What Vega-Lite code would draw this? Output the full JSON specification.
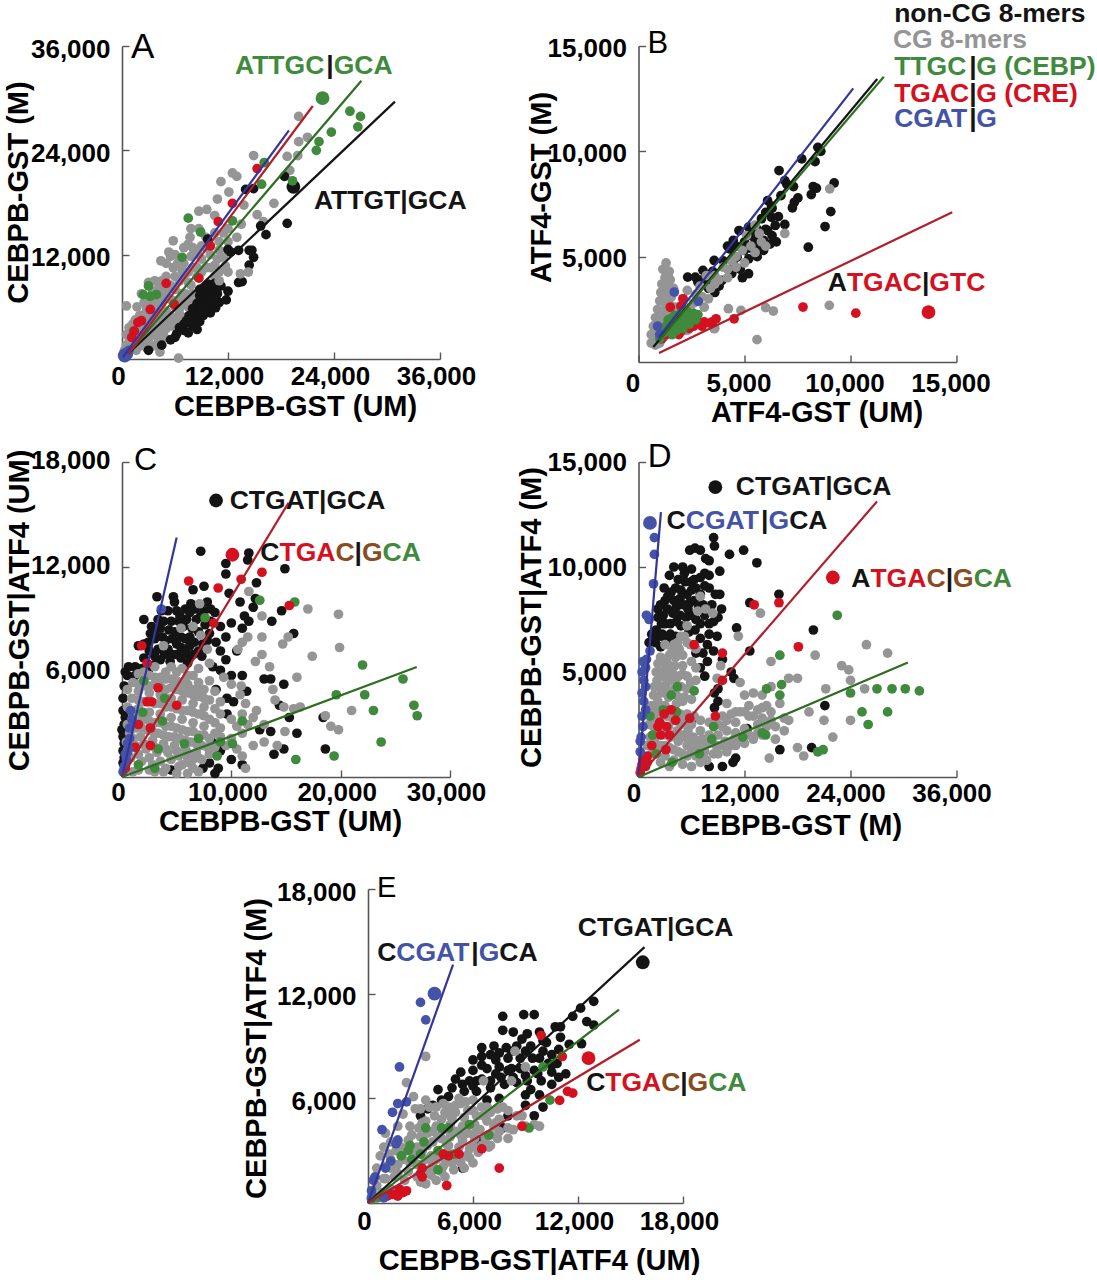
{"$schema":"https://vega.github.io/schema/vega-lite/v6.json","padding":{"left":4,"top":0,"right":0,"bottom":0},"background":"white",
"config":{"view":{"stroke":null},"font":"Liberation Sans","axis":{"grid":false,"domainColor":"#555555","domainWidth":1.6,"tickColor":"#555555","tickWidth":1.4,"tickSize":-7,"labelFontSize":26,"labelFontWeight":"bold","labelColor":"#000000","labelFont":"Liberation Sans","labelOverlap":false,"labelBound":false,"labelFlush":false,"titleFontSize":29,"titleFontWeight":"bold","titleColor":"#000000","titleFont":"Liberation Sans","titleBaseline":"middle","titleAlign":"center","format":",d"},"text":{"font":"Liberation Sans","fontSize":26.5,"fontWeight":"bold","align":"left","baseline":"middle"},"circle":{"opacity":1},"line":{"strokeWidth":2.2}},
"datasets":{
"Ap":[{"s":"CG","x":1300,"y":1200},{"s":"CG","x":2200,"y":2200},{"s":"CG","x":2800,"y":2600},{"s":"CG","x":3700,"y":3300},{"s":"CG","x":4700,"y":3100},{"s":"CG","x":6500,"y":4300},{"s":"CG","x":3000,"y":3800},{"s":"CG","x":1000,"y":2200},{"s":"CG","x":2000,"y":3800},{"s":"CG","x":2800,"y":5800},{"s":"CG","x":3200,"y":6300},{"s":"CG","x":4200,"y":4700},{"s":"CG","x":4800,"y":5000},{"s":"CG","x":5600,"y":6800},{"s":"CG","x":6400,"y":6800},{"s":"CG","x":7200,"y":7500},{"s":"CG","x":7500,"y":8800},{"s":"CG","x":8500,"y":10500},{"s":"CG","x":9000,"y":10000},{"s":"CG","x":10000,"y":10500},{"s":"CG","x":10800,"y":11500},{"s":"CG","x":11000,"y":10000},{"s":"CG","x":3700,"y":9000},{"s":"CG","x":5500,"y":11800},{"s":"CG","x":1000,"y":1500},{"s":"CG","x":1500,"y":2000},{"s":"CG","x":1800,"y":2800},{"s":"CG","x":1200,"y":3000},{"s":"CG","x":2500,"y":3800},{"s":"CG","x":2600,"y":5200},{"s":"CG","x":3500,"y":4000},{"s":"CG","x":3500,"y":5000},{"s":"CG","x":3800,"y":6500},{"s":"CG","x":4500,"y":6500},{"s":"CG","x":4500,"y":7500},{"s":"CG","x":5200,"y":7000},{"s":"CG","x":5500,"y":8500},{"s":"CG","x":5000,"y":8000},{"s":"CG","x":6500,"y":9000},{"s":"CG","x":6000,"y":9500},{"s":"CG","x":5800,"y":10500},{"s":"CG","x":6800,"y":10200},{"s":"CG","x":7500,"y":10000},{"s":"CG","x":7800,"y":11800},{"s":"CG","x":8500,"y":12300},{"s":"CG","x":8000,"y":12800},{"s":"CG","x":9500,"y":12800},{"s":"CG","x":9500,"y":14000},{"s":"CG","x":11500,"y":14500},{"s":"CG","x":11000,"y":12500},{"s":"CG","x":12000,"y":13500},{"s":"CG","x":13000,"y":14000},{"s":"CG","x":13500,"y":15500},{"s":"CG","x":2500,"y":2000},{"s":"CG","x":3500,"y":2800},{"s":"CG","x":4500,"y":4400},{"s":"CG","x":5500,"y":5000},{"s":"CG","x":6500,"y":5800},{"s":"CG","x":7500,"y":6800},{"s":"CG","x":6800,"y":7500},{"s":"CG","x":7800,"y":8500},{"s":"CG","x":8500,"y":9500},{"s":"CG","x":9500,"y":10500},{"s":"CG","x":10500,"y":10800},{"s":"CG","x":11500,"y":11700},{"s":"CG","x":4000,"y":1700},{"s":"CG","x":2800,"y":1300},{"s":"CG","x":1600,"y":1000},{"s":"CG","x":10500,"y":9500},{"s":"CG","x":12000,"y":10000},{"s":"CG","x":300,"y":1000},{"s":"CG","x":500,"y":1600},{"s":"CG","x":800,"y":2400},{"s":"CG","x":500,"y":2800},{"s":"CG","x":800,"y":3600},{"s":"CG","x":1200,"y":4000},{"s":"CG","x":500,"y":6100},{"s":"CG","x":1500,"y":4500},{"s":"CG","x":2000,"y":5000},{"s":"CG","x":1700,"y":6000},{"s":"CG","x":2500,"y":6500},{"s":"CG","x":2200,"y":7500},{"s":"CG","x":3000,"y":7000},{"s":"CG","x":3000,"y":8800},{"s":"CG","x":3500,"y":7800},{"s":"CG","x":4200,"y":8300},{"s":"CG","x":4500,"y":9000},{"s":"CG","x":5000,"y":9500},{"s":"CG","x":4400,"y":11300},{"s":"CG","x":5000,"y":11000},{"s":"CG","x":5300,"y":12300},{"s":"CG","x":6000,"y":12000},{"s":"CG","x":6300,"y":11000},{"s":"CG","x":5800,"y":13600},{"s":"CG","x":7000,"y":11000},{"s":"CG","x":7000,"y":12800},{"s":"CG","x":7500,"y":13200},{"s":"CG","x":7700,"y":14000},{"s":"CG","x":7800,"y":15000},{"s":"CG","x":8700,"y":15000},{"s":"CG","x":8700,"y":17000},{"s":"CG","x":9600,"y":17200},{"s":"CG","x":10500,"y":16500},{"s":"CG","x":10800,"y":18400},{"s":"CG","x":11200,"y":20400},{"s":"CG","x":12100,"y":19200},{"s":"CG","x":12500,"y":21400},{"s":"CG","x":13000,"y":21000},{"s":"CG","x":13800,"y":17700},{"s":"CG","x":14900,"y":23400},{"s":"CG","x":15300,"y":16600},{"s":"CG","x":16000,"y":15800},{"s":"CG","x":17200,"y":17900},{"s":"CG","x":18700,"y":23300},{"s":"CG","x":19000,"y":21700},{"s":"CG","x":19900,"y":23400},{"s":"CG","x":20000,"y":25000},{"s":"CG","x":21000,"y":25500},{"s":"CG","x":20000,"y":27900},{"s":"CG","x":6400,"y":100},{"s":"CG","x":4300,"y":800},{"s":"CG","x":2000,"y":1500},{"s":"CG","x":3000,"y":2000},{"s":"CG","x":3500,"y":1500},{"s":"CG","x":4000,"y":2500},{"s":"CG","x":4800,"y":2500},{"s":"CG","x":5000,"y":3500},{"s":"CG","x":5500,"y":3800},{"s":"CG","x":6000,"y":4500},{"s":"CG","x":6500,"y":5200},{"s":"CG","x":4300,"y":3500},{"s":"CG","x":5200,"y":4500},{"s":"CG","x":7000,"y":4800},{"s":"CG","x":7500,"y":6000},{"s":"CG","x":8200,"y":6800},{"s":"CG","x":8000,"y":7500},{"s":"CG","x":7000,"y":6500},{"s":"CG","x":6000,"y":6000},{"s":"CG","x":5000,"y":5500},{"s":"CG","x":4000,"y":5500},{"s":"CG","x":3000,"y":4500},{"s":"CG","x":2200,"y":3000},{"s":"CG","x":3200,"y":3200},{"s":"CG","x":6000,"y":8000},{"s":"CG","x":7000,"y":9500},{"s":"CG","x":8000,"y":10500},{"s":"CG","x":9000,"y":11500},{"s":"CG","x":10000,"y":12000},{"s":"CG","x":9000,"y":13000},{"s":"CG","x":11000,"y":13500},{"s":"CG","x":10500,"y":14500},{"s":"CG","x":12000,"y":15000},{"s":"non-CG","x":8800,"y":7300},{"s":"non-CG","x":9500,"y":7200},{"s":"non-CG","x":8500,"y":6400},{"s":"non-CG","x":9500,"y":6300},{"s":"non-CG","x":10300,"y":6300},{"s":"non-CG","x":8000,"y":5800},{"s":"non-CG","x":8700,"y":5600},{"s":"non-CG","x":7300,"y":4400},{"s":"non-CG","x":7600,"y":5000},{"s":"non-CG","x":7000,"y":4000},{"s":"non-CG","x":6500,"y":3600},{"s":"non-CG","x":7800,"y":4200},{"s":"non-CG","x":6000,"y":2500},{"s":"non-CG","x":10000,"y":5300},{"s":"non-CG","x":10500,"y":8000},{"s":"non-CG","x":9500,"y":8200},{"s":"non-CG","x":8800,"y":8000},{"s":"non-CG","x":5500,"y":2200},{"s":"non-CG","x":6200,"y":2900},{"s":"non-CG","x":7000,"y":3300},{"s":"non-CG","x":7500,"y":3000},{"s":"non-CG","x":8000,"y":3800},{"s":"non-CG","x":8200,"y":4500},{"s":"non-CG","x":8800,"y":4300},{"s":"non-CG","x":8500,"y":5200},{"s":"non-CG","x":9200,"y":5000},{"s":"non-CG","x":9000,"y":6000},{"s":"non-CG","x":9500,"y":5800},{"s":"non-CG","x":9000,"y":6900},{"s":"non-CG","x":9800,"y":6700},{"s":"non-CG","x":9300,"y":7800},{"s":"non-CG","x":10000,"y":7800},{"s":"non-CG","x":10200,"y":7000},{"s":"non-CG","x":10800,"y":7500},{"s":"non-CG","x":11000,"y":6500},{"s":"non-CG","x":10600,"y":5900},{"s":"non-CG","x":11800,"y":6800},{"s":"non-CG","x":9800,"y":8600},{"s":"non-CG","x":10500,"y":8700},{"s":"non-CG","x":11200,"y":8400},{"s":"non-CG","x":12000,"y":7800},{"s":"non-CG","x":8500,"y":3400},{"s":"non-CG","x":4500,"y":1600},{"s":"non-CG","x":3000,"y":1000},{"s":"non-CG","x":18400,"y":21000},{"s":"non-CG","x":18700,"y":15600},{"s":"non-CG","x":16300,"y":14300},{"s":"non-CG","x":15700,"y":15300},{"s":"non-CG","x":14900,"y":19600},{"s":"non-CG","x":14000,"y":19500},{"s":"non-CG","x":14700,"y":12500},{"s":"non-CG","x":14900,"y":11700},{"s":"non-CG","x":14400,"y":10800},{"s":"non-CG","x":13600,"y":8900},{"s":"non-CG","x":13200,"y":8800},{"s":"non-CG","x":14400,"y":12500},{"s":"non-CG","x":13200,"y":12500},{"s":"non-CG","x":12300,"y":12300},{"s":"non-CG","x":12000,"y":12600},{"s":"non-CG","x":9700,"y":13800},{"s":"non-CG","x":19400,"y":19800,"top":1},{"s":"CG","x":11000,"y":9000},{"s":"CG","x":11700,"y":10700},{"s":"CG","x":13400,"y":9800},{"s":"CG","x":14300,"y":10000},{"s":"CEBP","x":22700,"y":30000,"top":1},{"s":"CEBP","x":25800,"y":28500},{"s":"CEBP","x":27000,"y":27900},{"s":"CEBP","x":26700,"y":26700},{"s":"CEBP","x":23700,"y":26100},{"s":"CEBP","x":22300,"y":25000},{"s":"CEBP","x":22000,"y":24000},{"s":"CEBP","x":16100,"y":22600},{"s":"CEBP","x":15800,"y":20100},{"s":"CEBP","x":19300,"y":20500},{"s":"CEBP","x":7500,"y":16200},{"s":"CEBP","x":8900,"y":14600},{"s":"CEBP","x":12500,"y":15900},{"s":"CEBP","x":6800,"y":11700},{"s":"CEBP","x":3000,"y":8400},{"s":"CEBP","x":3200,"y":7200},{"s":"CEBP","x":2400,"y":7400},{"s":"CEBP","x":3900,"y":7400},{"s":"CEBP","x":1300,"y":3200},{"s":"CRE","x":15300,"y":21900},{"s":"CRE","x":12500,"y":17900},{"s":"CRE","x":10900,"y":15800},{"s":"CRE","x":10000,"y":13000},{"s":"CRE","x":8700,"y":9300},{"s":"CRE","x":5000,"y":8700},{"s":"CRE","x":5900,"y":6300},{"s":"CRE","x":3200,"y":5700},{"s":"CRE","x":2200,"y":4400},{"s":"CRE","x":1800,"y":4200},{"s":"CRE","x":1400,"y":3200},{"s":"CRE","x":1100,"y":2500},{"s":"CGAT","x":300,"y":400,"top":1},{"s":"CGAT","x":500,"y":800},{"s":"CGAT","x":800,"y":1000},{"s":"CGAT","x":200,"y":600},{"s":"CGAT","x":700,"y":500}],
"Al":[{"s":"non-CG","x":700,"y":600},{"s":"non-CG","x":30900,"y":29600},{"s":"CEBP fit","x":700,"y":600},{"s":"CEBP fit","x":27100,"y":32000},{"s":"CRE fit","x":700,"y":600},{"s":"CRE fit","x":21600,"y":29100},{"s":"CGAT fit","x":100,"y":200},{"s":"CGAT fit","x":18900,"y":26300}],
"At":[{"s":"CEBP","t":"ATTGC","x":12790,"y":33700},{"s":"non-CG","t":"|","x":23130,"y":33700},{"s":"CEBP","t":"GCA","x":23960,"y":33700},{"s":"non-CG","t":"ATTGT|GCA","x":21730,"y":18170}],
"Bp":[{"s":"CG","x":1000,"y":1300},{"s":"CG","x":1300,"y":1600},{"s":"CG","x":1600,"y":1900},{"s":"CG","x":1350,"y":2400},{"s":"CG","x":1500,"y":3300},{"s":"CG","x":1250,"y":3000},{"s":"CG","x":1400,"y":4100},{"s":"CG","x":1200,"y":2300},{"s":"CG","x":2000,"y":2000},{"s":"CG","x":2200,"y":2600},{"s":"CG","x":1300,"y":4700},{"s":"CG","x":1150,"y":4400},{"s":"CG","x":1450,"y":4300},{"s":"CG","x":1250,"y":4000},{"s":"CG","x":1500,"y":3900},{"s":"CG","x":1100,"y":3700},{"s":"CG","x":1350,"y":3600},{"s":"CG","x":1650,"y":3500},{"s":"CG","x":1050,"y":3300},{"s":"CG","x":1300,"y":3200},{"s":"CG","x":1550,"y":3100},{"s":"CG","x":1000,"y":2900},{"s":"CG","x":1250,"y":2800},{"s":"CG","x":1500,"y":2700},{"s":"CG","x":1750,"y":2600},{"s":"CG","x":900,"y":2500},{"s":"CG","x":1150,"y":2400},{"s":"CG","x":800,"y":2100},{"s":"CG","x":1050,"y":2000},{"s":"CG","x":1300,"y":2100},{"s":"CG","x":700,"y":1700},{"s":"CG","x":950,"y":1600},{"s":"CG","x":600,"y":1300},{"s":"CG","x":800,"y":1200},{"s":"CG","x":600,"y":900},{"s":"CG","x":800,"y":800},{"s":"CG","x":1000,"y":900},{"s":"CG","x":1200,"y":1200},{"s":"CG","x":1500,"y":1300},{"s":"CG","x":2300,"y":1500},{"s":"CG","x":2900,"y":1800},{"s":"CG","x":3600,"y":1600},{"s":"non-CG","x":3200,"y":3700},{"s":"non-CG","x":4500,"y":4600},{"s":"non-CG","x":5000,"y":5300},{"s":"non-CG","x":5500,"y":5700},{"s":"non-CG","x":6000,"y":6300},{"s":"non-CG","x":6600,"y":6900},{"s":"non-CG","x":5700,"y":5500},{"s":"non-CG","x":3000,"y":3900},{"s":"non-CG","x":3500,"y":4300},{"s":"non-CG","x":4000,"y":4800},{"s":"non-CG","x":4200,"y":5500},{"s":"non-CG","x":4600,"y":5500},{"s":"non-CG","x":5000,"y":5700},{"s":"non-CG","x":5300,"y":6000},{"s":"non-CG","x":5600,"y":6300},{"s":"non-CG","x":5800,"y":6800},{"s":"non-CG","x":6000,"y":7100},{"s":"non-CG","x":6300,"y":7300},{"s":"non-CG","x":4900,"y":4000},{"s":"non-CG","x":5200,"y":4900},{"s":"non-CG","x":5900,"y":5300},{"s":"non-CG","x":6500,"y":5700},{"s":"non-CG","x":6200,"y":5600},{"s":"non-CG","x":2800,"y":3800},{"s":"non-CG","x":3600,"y":3300},{"s":"non-CG","x":8460,"y":10190},{"s":"non-CG","x":8600,"y":10000},{"s":"non-CG","x":7700,"y":9640},{"s":"non-CG","x":8330,"y":9510},{"s":"non-CG","x":6630,"y":9090},{"s":"non-CG","x":9230,"y":8500},{"s":"non-CG","x":8240,"y":8330},{"s":"non-CG","x":8390,"y":8250},{"s":"non-CG","x":8150,"y":7950},{"s":"non-CG","x":7520,"y":7790},{"s":"non-CG","x":7350,"y":7580},{"s":"non-CG","x":7260,"y":7320},{"s":"non-CG","x":9070,"y":7140},{"s":"non-CG","x":8800,"y":6430},{"s":"non-CG","x":8010,"y":5450},{"s":"non-CG","x":6900,"y":8610},{"s":"non-CG","x":6990,"y":8450},{"s":"non-CG","x":7310,"y":8330},{"s":"non-CG","x":6720,"y":7900},{"s":"non-CG","x":6090,"y":7660},{"s":"non-CG","x":6270,"y":7400},{"s":"non-CG","x":6900,"y":6530},{"s":"non-CG","x":6450,"y":6480},{"s":"non-CG","x":6270,"y":6870},{"s":"non-CG","x":6090,"y":6240},{"s":"non-CG","x":6300,"y":6000},{"s":"non-CG","x":5910,"y":5770},{"s":"non-CG","x":5370,"y":5370},{"s":"non-CG","x":5190,"y":6400},{"s":"non-CG","x":4740,"y":6240},{"s":"non-CG","x":4470,"y":5770},{"s":"non-CG","x":4290,"y":5370},{"s":"non-CG","x":4650,"y":4980},{"s":"non-CG","x":5190,"y":4190},{"s":"non-CG","x":3570,"y":4820},{"s":"non-CG","x":3040,"y":4350},{"s":"non-CG","x":2320,"y":4030},{"s":"non-CG","x":2680,"y":4030},{"s":"non-CG","x":3930,"y":3870},{"s":"non-CG","x":3300,"y":3500},{"s":"non-CG","x":3800,"y":3600},{"s":"non-CG","x":4400,"y":4200},{"s":"non-CG","x":4800,"y":4400},{"s":"non-CG","x":5600,"y":5000},{"s":"CG","x":3400,"y":3500},{"s":"CG","x":3800,"y":3900},{"s":"CG","x":4200,"y":4400},{"s":"CG","x":4600,"y":4500},{"s":"CG","x":4600,"y":5000},{"s":"CG","x":5500,"y":5200},{"s":"CG","x":5800,"y":5700},{"s":"CG","x":3600,"y":3700},{"s":"CG","x":2700,"y":3200},{"s":"CG","x":3300,"y":3000},{"s":"CG","x":1800,"y":2300},{"s":"CG","x":2100,"y":3000},{"s":"CG","x":2300,"y":3400},{"s":"CG","x":2600,"y":2800},{"s":"CG","x":2900,"y":3600},{"s":"CG","x":3000,"y":3100},{"s":"CG","x":3200,"y":4100},{"s":"CG","x":3600,"y":4100},{"s":"CG","x":4000,"y":4500},{"s":"CG","x":4200,"y":4000},{"s":"CG","x":4400,"y":4800},{"s":"CG","x":4900,"y":5300},{"s":"CG","x":5000,"y":4700},{"s":"CG","x":5300,"y":5500},{"s":"CG","x":5100,"y":6000},{"s":"CG","x":5700,"y":6100},{"s":"CG","x":5500,"y":6500},{"s":"CG","x":6000,"y":5500},{"s":"CG","x":6900,"y":6100},{"s":"CG","x":2500,"y":2400},{"s":"CG","x":3100,"y":2600},{"s":"CG","x":9000,"y":2690},{"s":"CG","x":9020,"y":8220},{"s":"CG","x":6360,"y":2420},{"s":"CG","x":6000,"y":2580},{"s":"CG","x":4830,"y":2450},{"s":"CG","x":4240,"y":2530},{"s":"CG","x":5590,"y":1060},{"s":"CG","x":3570,"y":1580},{"s":"CRE","x":1500,"y":2600},{"s":"CRE","x":2000,"y":2650},{"s":"CRE","x":2100,"y":3000},{"s":"CRE","x":1300,"y":1300},{"s":"CRE","x":1700,"y":1400},{"s":"CRE","x":1900,"y":1300},{"s":"CRE","x":2000,"y":1450},{"s":"CRE","x":2400,"y":1600},{"s":"CRE","x":2600,"y":1700},{"s":"CRE","x":2800,"y":1900},{"s":"CRE","x":3000,"y":1700},{"s":"CRE","x":3100,"y":1900},{"s":"CRE","x":1100,"y":1100},{"s":"CEBP","x":1000,"y":1100},{"s":"CEBP","x":1200,"y":1400},{"s":"CEBP","x":1500,"y":1600},{"s":"CEBP","x":1800,"y":1800},{"s":"CEBP","x":2100,"y":1850},{"s":"CEBP","x":2400,"y":2050},{"s":"CEBP","x":1400,"y":2000},{"s":"CEBP","x":1700,"y":2200},{"s":"CEBP","x":2000,"y":2300},{"s":"CEBP","x":2300,"y":2400},{"s":"CEBP","x":2600,"y":2300},{"s":"CEBP","x":2800,"y":2250},{"s":"CEBP","x":1600,"y":1300},{"s":"CEBP","x":1300,"y":1700},{"s":"CEBP","x":1600,"y":2100},{"s":"CEBP","x":1900,"y":2100},{"s":"CEBP","x":2200,"y":2200},{"s":"CEBP","x":1500,"y":1800},{"s":"CEBP","x":2500,"y":2200},{"s":"CEBP","x":1800,"y":1500},{"s":"CEBP","x":2100,"y":1600},{"s":"CEBP","x":2400,"y":1800},{"s":"CEBP","x":2700,"y":2000},{"s":"CRE","x":13680,"y":2370,"top":1},{"s":"CRE","x":10250,"y":2320},{"s":"CRE","x":7760,"y":2610},{"s":"CRE","x":4510,"y":2050},{"s":"CRE","x":3660,"y":2050},{"s":"CRE","x":3480,"y":1900},{"s":"CRE","x":3360,"y":1850},{"s":"CGAT","x":1690,"y":3320},{"s":"CGAT","x":2820,"y":2880},{"s":"CGAT","x":900,"y":1700},{"s":"CGAT","x":1000,"y":1300}],
"Bl":[{"s":"CGAT fit","x":970,"y":1185},{"s":"CGAT fit","x":10130,"y":12990},{"s":"non-CG","x":700,"y":710},{"s":"non-CG","x":11260,"y":13430},{"s":"CEBP fit","x":970,"y":1030},{"s":"CEBP fit","x":11570,"y":13540},{"s":"CRE fit","x":970,"y":430},{"s":"CRE fit","x":14800,"y":7110}],
"Bt":[{"s":"non-CG","t":"non-CG 8-mers","x":12060,"y":16520},{"s":"CG","t":"CG 8-mers","x":12000,"y":15280},{"s":"CEBP","t":"TTGC","x":12060,"y":14000},{"s":"non-CG","t":"|","x":15600,"y":14000},{"s":"CEBP","t":"G (CEBP)","x":15930,"y":14000},{"s":"CRE","t":"TGAC","x":12060,"y":12720},{"s":"non-CG","t":"|","x":15600,"y":12720},{"s":"CRE","t":"G (CRE)","x":15930,"y":12720},{"s":"CGAT","t":"CGAT","x":12060,"y":11530},{"s":"non-CG","t":"|","x":15600,"y":11530},{"s":"CGAT","t":"G","x":15930,"y":11530},{"s":"non-CG","t":"A","x":8930,"y":3740},{"s":"CRE","t":"TGAC","x":9830,"y":3740},{"s":"non-CG","t":"|","x":13370,"y":3740},{"s":"CRE","t":"GTC","x":13720,"y":3740}],
"Cp":[{"s":"non-CG","x":2700,"y":8600},{"s":"non-CG","x":3300,"y":9000},{"s":"non-CG","x":4200,"y":9500},{"s":"non-CG","x":5000,"y":9500},{"s":"non-CG","x":5800,"y":9600},{"s":"non-CG","x":6700,"y":9600},{"s":"non-CG","x":7500,"y":9500},{"s":"non-CG","x":8500,"y":9400},{"s":"non-CG","x":9000,"y":8600},{"s":"non-CG","x":9500,"y":8000},{"s":"non-CG","x":10000,"y":8800},{"s":"non-CG","x":2600,"y":8200},{"s":"non-CG","x":4600,"y":7900},{"s":"non-CG","x":5400,"y":8000},{"s":"non-CG","x":6200,"y":8000},{"s":"non-CG","x":5200,"y":8900},{"s":"non-CG","x":5900,"y":9000},{"s":"non-CG","x":6800,"y":9000},{"s":"non-CG","x":7600,"y":8700},{"s":"non-CG","x":4300,"y":8400},{"s":"non-CG","x":3800,"y":8900},{"s":"non-CG","x":3000,"y":8200},{"s":"non-CG","x":2500,"y":7200},{"s":"non-CG","x":3000,"y":6900},{"s":"non-CG","x":3900,"y":7000},{"s":"non-CG","x":4600,"y":7000},{"s":"non-CG","x":5400,"y":6800},{"s":"non-CG","x":6200,"y":6900},{"s":"non-CG","x":5400,"y":7400},{"s":"non-CG","x":6200,"y":7500},{"s":"non-CG","x":7000,"y":7200},{"s":"non-CG","x":7800,"y":7800},{"s":"non-CG","x":8600,"y":7700},{"s":"non-CG","x":9000,"y":7200},{"s":"non-CG","x":2900,"y":6400},{"s":"non-CG","x":2000,"y":6800},{"s":"non-CG","x":300,"y":6000},{"s":"non-CG","x":300,"y":3400},{"s":"non-CG","x":0,"y":2700},{"s":"non-CG","x":200,"y":1900},{"s":"non-CG","x":200,"y":1100},{"s":"non-CG","x":3700,"y":8000},{"s":"non-CG","x":7200,"y":12900},{"s":"non-CG","x":11600,"y":12800},{"s":"non-CG","x":11500,"y":12400},{"s":"non-CG","x":9500,"y":12200},{"s":"non-CG","x":9500,"y":11600},{"s":"non-CG","x":14900,"y":11900},{"s":"non-CG","x":12300,"y":11100},{"s":"non-CG","x":3200,"y":10300},{"s":"non-CG","x":4700,"y":10300},{"s":"non-CG","x":4800,"y":10000},{"s":"non-CG","x":6500,"y":10700},{"s":"non-CG","x":7500,"y":10900},{"s":"non-CG","x":6300,"y":9900},{"s":"non-CG","x":7800,"y":10000},{"s":"non-CG","x":8100,"y":9600},{"s":"non-CG","x":9800,"y":10500},{"s":"non-CG","x":10800,"y":10000},{"s":"non-CG","x":12200,"y":10200},{"s":"non-CG","x":12000,"y":9700},{"s":"non-CG","x":11200,"y":9200},{"s":"non-CG","x":11600,"y":8900},{"s":"non-CG","x":14600,"y":9500},{"s":"non-CG","x":13700,"y":8900},{"s":"non-CG","x":2000,"y":9000},{"s":"non-CG","x":3600,"y":9500},{"s":"non-CG","x":15700,"y":8200},{"s":"non-CG","x":11000,"y":8500},{"s":"non-CG","x":3500,"y":8500},{"s":"non-CG","x":4500,"y":8900},{"s":"non-CG","x":5300,"y":9200},{"s":"non-CG","x":6200,"y":9400},{"s":"non-CG","x":7200,"y":9200},{"s":"non-CG","x":8100,"y":8900},{"s":"non-CG","x":4000,"y":7800},{"s":"non-CG","x":4800,"y":8300},{"s":"non-CG","x":5600,"y":8600},{"s":"non-CG","x":6400,"y":8500},{"s":"non-CG","x":7000,"y":8300},{"s":"non-CG","x":8000,"y":8200},{"s":"non-CG","x":3300,"y":7300},{"s":"non-CG","x":4200,"y":7300},{"s":"non-CG","x":5000,"y":7600},{"s":"non-CG","x":5800,"y":7900},{"s":"non-CG","x":6600,"y":7700},{"s":"non-CG","x":7400,"y":7600},{"s":"non-CG","x":2000,"y":7600},{"s":"non-CG","x":1500,"y":7500},{"s":"non-CG","x":2400,"y":7700},{"s":"non-CG","x":3000,"y":7900},{"s":"non-CG","x":5000,"y":7000},{"s":"non-CG","x":5800,"y":7200},{"s":"non-CG","x":6500,"y":7000},{"s":"non-CG","x":7300,"y":6900},{"s":"non-CG","x":4400,"y":6600},{"s":"non-CG","x":3500,"y":6700},{"s":"non-CG","x":6000,"y":6500},{"s":"non-CG","x":8300,"y":6300},{"s":"non-CG","x":9500,"y":6700},{"s":"non-CG","x":10500,"y":7200},{"s":"non-CG","x":9000,"y":6100},{"s":"non-CG","x":600,"y":6300},{"s":"non-CG","x":1200,"y":6300},{"s":"non-CG","x":1800,"y":6200},{"s":"non-CG","x":2400,"y":6100},{"s":"non-CG","x":500,"y":5800},{"s":"non-CG","x":1200,"y":5800},{"s":"non-CG","x":200,"y":5200},{"s":"non-CG","x":100,"y":4500},{"s":"non-CG","x":100,"y":3800},{"s":"non-CG","x":200,"y":3000},{"s":"non-CG","x":100,"y":2300},{"s":"non-CG","x":100,"y":1500},{"s":"non-CG","x":100,"y":800},{"s":"non-CG","x":10000,"y":5800},{"s":"non-CG","x":11000,"y":5800},{"s":"non-CG","x":13000,"y":5600},{"s":"non-CG","x":13600,"y":5600},{"s":"non-CG","x":14800,"y":5300},{"s":"non-CG","x":8600,"y":5000},{"s":"non-CG","x":9600,"y":4500},{"s":"non-CG","x":10200,"y":4300},{"s":"non-CG","x":11400,"y":4900},{"s":"non-CG","x":14400,"y":4100},{"s":"non-CG","x":9600,"y":3600},{"s":"non-CG","x":15300,"y":3400},{"s":"non-CG","x":18400,"y":3400},{"s":"non-CG","x":12600,"y":2700},{"s":"non-CG","x":13600,"y":2600},{"s":"non-CG","x":16000,"y":2500},{"s":"non-CG","x":8200,"y":2000},{"s":"non-CG","x":9000,"y":1500},{"s":"non-CG","x":10000,"y":1000},{"s":"non-CG","x":14800,"y":1600},{"s":"non-CG","x":13900,"y":1300},{"s":"non-CG","x":18600,"y":1600},{"s":"non-CG","x":8000,"y":800},{"s":"non-CG","x":8800,"y":500},{"s":"non-CG","x":7400,"y":500},{"s":"non-CG","x":8500,"y":200},{"s":"non-CG","x":11000,"y":700},{"s":"non-CG","x":4500,"y":400},{"s":"non-CG","x":8600,"y":15800,"top":1},{"s":"CG","x":1500,"y":5300},{"s":"CG","x":2500,"y":5200},{"s":"CG","x":3500,"y":5200},{"s":"CG","x":4500,"y":5100},{"s":"CG","x":5500,"y":4900},{"s":"CG","x":6500,"y":4700},{"s":"CG","x":7500,"y":4500},{"s":"CG","x":1500,"y":4400},{"s":"CG","x":2500,"y":4300},{"s":"CG","x":3500,"y":4200},{"s":"CG","x":4500,"y":4000},{"s":"CG","x":5500,"y":3800},{"s":"CG","x":6500,"y":3700},{"s":"CG","x":7500,"y":3500},{"s":"CG","x":8500,"y":3900},{"s":"CG","x":1500,"y":3400},{"s":"CG","x":2500,"y":3200},{"s":"CG","x":3500,"y":3100},{"s":"CG","x":4500,"y":2900},{"s":"CG","x":5500,"y":2700},{"s":"CG","x":6500,"y":2600},{"s":"CG","x":7500,"y":2400},{"s":"CG","x":8500,"y":2500},{"s":"CG","x":900,"y":2900},{"s":"CG","x":1800,"y":2800},{"s":"CG","x":2800,"y":2600},{"s":"CG","x":3800,"y":2400},{"s":"CG","x":4800,"y":2300},{"s":"CG","x":5800,"y":2100},{"s":"CG","x":6800,"y":1900},{"s":"CG","x":7800,"y":1700},{"s":"CG","x":1000,"y":2200},{"s":"CG","x":2000,"y":1900},{"s":"CG","x":3000,"y":1700},{"s":"CG","x":4000,"y":1600},{"s":"CG","x":5000,"y":1500},{"s":"CG","x":6000,"y":1400},{"s":"CG","x":7000,"y":1100},{"s":"CG","x":800,"y":1100},{"s":"CG","x":1800,"y":900},{"s":"CG","x":2800,"y":700},{"s":"CG","x":3800,"y":300},{"s":"CG","x":5200,"y":600},{"s":"CG","x":6200,"y":800},{"s":"CG","x":7000,"y":300},{"s":"CG","x":3000,"y":5700},{"s":"CG","x":4000,"y":5600},{"s":"CG","x":5000,"y":5500},{"s":"CG","x":6000,"y":5300},{"s":"CG","x":7000,"y":5000},{"s":"CG","x":8500,"y":4900},{"s":"CG","x":9000,"y":4300},{"s":"CG","x":9000,"y":2800},{"s":"CG","x":9500,"y":1800},{"s":"CG","x":8500,"y":1700},{"s":"CG","x":10000,"y":3300},{"s":"CG","x":11000,"y":3600},{"s":"CG","x":11000,"y":2500},{"s":"CG","x":13000,"y":3000},{"s":"CG","x":1500,"y":5900},{"s":"CG","x":500,"y":5000},{"s":"CG","x":1500,"y":4900},{"s":"CG","x":2500,"y":4800},{"s":"CG","x":3500,"y":4700},{"s":"CG","x":4500,"y":4500},{"s":"CG","x":5500,"y":4400},{"s":"CG","x":6500,"y":4200},{"s":"CG","x":7500,"y":4000},{"s":"CG","x":500,"y":4000},{"s":"CG","x":1500,"y":3900},{"s":"CG","x":2500,"y":3700},{"s":"CG","x":3500,"y":3600},{"s":"CG","x":4500,"y":3400},{"s":"CG","x":5500,"y":3300},{"s":"CG","x":6500,"y":3100},{"s":"CG","x":7500,"y":2900},{"s":"CG","x":500,"y":3000},{"s":"CG","x":1300,"y":2800},{"s":"CG","x":2300,"y":2700},{"s":"CG","x":3300,"y":2500},{"s":"CG","x":4300,"y":2300},{"s":"CG","x":5300,"y":2200},{"s":"CG","x":6300,"y":2000},{"s":"CG","x":7300,"y":1800},{"s":"CG","x":400,"y":2000},{"s":"CG","x":1200,"y":1800},{"s":"CG","x":2200,"y":1600},{"s":"CG","x":3200,"y":1400},{"s":"CG","x":4200,"y":1400},{"s":"CG","x":5200,"y":1200},{"s":"CG","x":6000,"y":1100},{"s":"CG","x":7300,"y":1000},{"s":"CG","x":2500,"y":5800},{"s":"CG","x":3500,"y":5700},{"s":"CG","x":4500,"y":5600},{"s":"CG","x":5500,"y":5400},{"s":"CG","x":6500,"y":5000},{"s":"CG","x":7500,"y":5000},{"s":"CG","x":2500,"y":400},{"s":"CG","x":4000,"y":500},{"s":"CG","x":1000,"y":300},{"s":"CG","x":6000,"y":200},{"s":"CG","x":4500,"y":6300},{"s":"CG","x":5500,"y":6200},{"s":"CG","x":6500,"y":5800},{"s":"CG","x":5400,"y":8500},{"s":"CG","x":7100,"y":9900},{"s":"CG","x":6500,"y":8600},{"s":"CG","x":7200,"y":8100},{"s":"CG","x":7800,"y":7300},{"s":"CG","x":8000,"y":6500},{"s":"CG","x":7000,"y":6200},{"s":"CG","x":3800,"y":7500},{"s":"CG","x":2000,"y":6000},{"s":"CG","x":3000,"y":6300},{"s":"CG","x":4000,"y":6000},{"s":"CG","x":5000,"y":6000},{"s":"CG","x":6000,"y":5800},{"s":"CG","x":7000,"y":5400},{"s":"CG","x":8000,"y":5500},{"s":"CG","x":1000,"y":5400},{"s":"CG","x":2000,"y":5200},{"s":"CG","x":3000,"y":5300},{"s":"CG","x":4000,"y":5000},{"s":"CG","x":5000,"y":5000},{"s":"CG","x":6000,"y":4800},{"s":"CG","x":7000,"y":4600},{"s":"CG","x":8000,"y":4400},{"s":"CG","x":900,"y":4500},{"s":"CG","x":2000,"y":4300},{"s":"CG","x":3000,"y":4200},{"s":"CG","x":4000,"y":4000},{"s":"CG","x":5000,"y":3900},{"s":"CG","x":6000,"y":3800},{"s":"CG","x":7000,"y":3600},{"s":"CG","x":8000,"y":3300},{"s":"CG","x":1000,"y":3500},{"s":"CG","x":2000,"y":3300},{"s":"CG","x":3000,"y":3100},{"s":"CG","x":4000,"y":2900},{"s":"CG","x":5000,"y":2800},{"s":"CG","x":6000,"y":2600},{"s":"CG","x":7000,"y":2400},{"s":"CG","x":8000,"y":2200},{"s":"CG","x":9000,"y":2300},{"s":"CG","x":700,"y":2500},{"s":"CG","x":1700,"y":2300},{"s":"CG","x":2800,"y":2100},{"s":"CG","x":3800,"y":1900},{"s":"CG","x":4800,"y":1800},{"s":"CG","x":5800,"y":1600},{"s":"CG","x":6800,"y":1400},{"s":"CG","x":8000,"y":1300},{"s":"CG","x":500,"y":1500},{"s":"CG","x":1500,"y":1300},{"s":"CG","x":2500,"y":1100},{"s":"CG","x":3500,"y":900},{"s":"CG","x":4500,"y":1000},{"s":"CG","x":5500,"y":700},{"s":"CG","x":6500,"y":500},{"s":"CG","x":300,"y":600},{"s":"CG","x":1500,"y":400},{"s":"CG","x":3000,"y":300},{"s":"CG","x":5000,"y":200},{"s":"CG","x":6500,"y":1000},{"s":"CG","x":12800,"y":9200},{"s":"CG","x":11600,"y":10600},{"s":"CG","x":17000,"y":9600},{"s":"CG","x":19800,"y":9300},{"s":"CG","x":19900,"y":7400},{"s":"CG","x":17400,"y":6900},{"s":"CG","x":11500,"y":8000},{"s":"CG","x":11000,"y":7700},{"s":"CG","x":10600,"y":7300},{"s":"CG","x":12800,"y":8000},{"s":"CG","x":14700,"y":7600},{"s":"CG","x":15200,"y":8000},{"s":"CG","x":12200,"y":6600},{"s":"CG","x":12800,"y":7000},{"s":"CG","x":13500,"y":6300},{"s":"CG","x":16000,"y":5700},{"s":"CG","x":9300,"y":5700},{"s":"CG","x":10000,"y":5300},{"s":"CG","x":10900,"y":5200},{"s":"CG","x":10800,"y":4700},{"s":"CG","x":11300,"y":4200},{"s":"CG","x":13800,"y":5000},{"s":"CG","x":14000,"y":4400},{"s":"CG","x":12300,"y":3800},{"s":"CG","x":12000,"y":3400},{"s":"CG","x":14800,"y":4000},{"s":"CG","x":15700,"y":3900},{"s":"CG","x":16300,"y":4000},{"s":"CG","x":21000,"y":3800},{"s":"CG","x":18600,"y":3500},{"s":"CG","x":19100,"y":2900},{"s":"CG","x":19800,"y":2700},{"s":"CG","x":11500,"y":3000},{"s":"CG","x":10500,"y":2900},{"s":"CG","x":9000,"y":3600},{"s":"CG","x":8500,"y":3100},{"s":"CG","x":14900,"y":2600},{"s":"CG","x":12000,"y":1800},{"s":"CG","x":11000,"y":1200},{"s":"CG","x":10500,"y":1600},{"s":"CG","x":13000,"y":2000},{"s":"CG","x":14200,"y":1800},{"s":"CG","x":11300,"y":500},{"s":"CG","x":10000,"y":2200},{"s":"CEBP","x":15800,"y":10000},{"s":"CEBP","x":12600,"y":10100},{"s":"CEBP","x":7600,"y":9100},{"s":"CEBP","x":22000,"y":6400},{"s":"CEBP","x":25700,"y":5600},{"s":"CEBP","x":22200,"y":4700},{"s":"CEBP","x":19600,"y":4700},{"s":"CEBP","x":26700,"y":4100},{"s":"CEBP","x":23000,"y":3800},{"s":"CEBP","x":27000,"y":3500},{"s":"CEBP","x":11000,"y":3200},{"s":"CEBP","x":23700,"y":2000},{"s":"CEBP","x":19400,"y":1200},{"s":"CEBP","x":15900,"y":1000},{"s":"CEBP","x":3900,"y":4500},{"s":"CEBP","x":2000,"y":5500},{"s":"CEBP","x":3700,"y":3200},{"s":"CEBP","x":1900,"y":3700},{"s":"CEBP","x":5700,"y":1900},{"s":"CEBP","x":7000,"y":2200},{"s":"CEBP","x":9000,"y":2000},{"s":"CEBP","x":10100,"y":1900},{"s":"CEBP","x":8700,"y":1200},{"s":"CEBP","x":1500,"y":700},{"s":"CEBP","x":3000,"y":500},{"s":"CEBP","x":3300,"y":1600},{"s":"CRE","x":10100,"y":12700,"top":1},{"s":"CRE","x":12800,"y":11700},{"s":"CRE","x":10900,"y":11300},{"s":"CRE","x":6100,"y":11200},{"s":"CRE","x":8800,"y":10800},{"s":"CRE","x":15300,"y":9800},{"s":"CRE","x":8400,"y":8800},{"s":"CRE","x":1800,"y":7500},{"s":"CRE","x":2300,"y":6500},{"s":"CRE","x":3300,"y":5100},{"s":"CRE","x":2300,"y":4300},{"s":"CRE","x":2700,"y":4300},{"s":"CRE","x":5000,"y":4100},{"s":"CRE","x":1500,"y":3000},{"s":"CRE","x":2600,"y":2800},{"s":"CRE","x":2600,"y":1800},{"s":"CRE","x":1200,"y":1700},{"s":"CRE","x":300,"y":500},{"s":"CGAT","x":3600,"y":9600},{"s":"CGAT","x":800,"y":3800},{"s":"CGAT","x":900,"y":3300},{"s":"CGAT","x":700,"y":2800},{"s":"CGAT","x":700,"y":2200},{"s":"CGAT","x":500,"y":1900},{"s":"CGAT","x":600,"y":1600},{"s":"CGAT","x":300,"y":1300},{"s":"CGAT","x":400,"y":1000},{"s":"CGAT","x":200,"y":600},{"s":"CGAT","x":500,"y":1400},{"s":"CGAT","x":100,"y":300}],
"Cl":[{"s":"CGAT fit","x":0,"y":0},{"s":"CGAT fit","x":5000,"y":13680},{"s":"CRE fit","x":0,"y":0},{"s":"CRE fit","x":15230,"y":15670},{"s":"CEBP fit","x":0,"y":0},{"s":"CEBP fit","x":26960,"y":6290}],
"Ct":[{"s":"non-CG","t":"CTGAT|GCA","x":9850,"y":15770},{"s":"non-CG","t":"C","x":12650,"y":12820},{"s":"CRE","t":"TGA","x":14400,"y":12820},{"s":"mixed","t":"C","x":19520,"y":12820},{"s":"non-CG","t":"|","x":21260,"y":12820},{"s":"mixed","t":"G","x":21940,"y":12820},{"s":"CEBP","t":"CA","x":23830,"y":12820}],
"Dp":[{"s":"non-CG","x":2200,"y":8000},{"s":"non-CG","x":3000,"y":8400},{"s":"non-CG","x":4000,"y":8400},{"s":"non-CG","x":4700,"y":8500},{"s":"non-CG","x":5500,"y":8700},{"s":"non-CG","x":6500,"y":9000},{"s":"non-CG","x":7500,"y":9700},{"s":"non-CG","x":6000,"y":9300},{"s":"non-CG","x":5200,"y":9700},{"s":"non-CG","x":7500,"y":7700},{"s":"non-CG","x":8500,"y":7400},{"s":"non-CG","x":6000,"y":7700},{"s":"non-CG","x":6500,"y":7500},{"s":"non-CG","x":5600,"y":8000},{"s":"non-CG","x":7300,"y":8200},{"s":"non-CG","x":8000,"y":6800},{"s":"non-CG","x":2300,"y":6700},{"s":"non-CG","x":3000,"y":6600},{"s":"non-CG","x":3600,"y":6800},{"s":"non-CG","x":3000,"y":7300},{"s":"non-CG","x":3900,"y":7800},{"s":"non-CG","x":4700,"y":7700},{"s":"non-CG","x":3300,"y":8600},{"s":"non-CG","x":4200,"y":9000},{"s":"non-CG","x":5300,"y":9300},{"s":"non-CG","x":6300,"y":9400},{"s":"non-CG","x":7500,"y":9100},{"s":"non-CG","x":2600,"y":7300},{"s":"non-CG","x":4800,"y":7200},{"s":"non-CG","x":6300,"y":8400},{"s":"non-CG","x":5800,"y":8300},{"s":"non-CG","x":6800,"y":8100},{"s":"non-CG","x":8700,"y":8700},{"s":"non-CG","x":8000,"y":7300},{"s":"non-CG","x":8900,"y":6700},{"s":"non-CG","x":7800,"y":6300},{"s":"non-CG","x":7300,"y":5900},{"s":"non-CG","x":6400,"y":7000},{"s":"non-CG","x":1900,"y":6400},{"s":"non-CG","x":2500,"y":6200},{"s":"non-CG","x":1500,"y":6800},{"s":"non-CG","x":2200,"y":7600},{"s":"non-CG","x":8600,"y":4000},{"s":"non-CG","x":9000,"y":4200},{"s":"non-CG","x":8500,"y":11400},{"s":"non-CG","x":8600,"y":11000},{"s":"non-CG","x":10300,"y":10600},{"s":"non-CG","x":11900,"y":10800},{"s":"non-CG","x":13400,"y":10200},{"s":"non-CG","x":7000,"y":10800},{"s":"non-CG","x":6400,"y":10900},{"s":"non-CG","x":5800,"y":10800},{"s":"non-CG","x":7600,"y":10400},{"s":"non-CG","x":8000,"y":10300},{"s":"non-CG","x":4000,"y":10000},{"s":"non-CG","x":5000,"y":10000},{"s":"non-CG","x":6000,"y":9900},{"s":"non-CG","x":9200,"y":9800},{"s":"non-CG","x":3500,"y":9600},{"s":"non-CG","x":8000,"y":9600},{"s":"non-CG","x":7000,"y":9500},{"s":"non-CG","x":4500,"y":9400},{"s":"non-CG","x":2900,"y":9000},{"s":"non-CG","x":3700,"y":8800},{"s":"non-CG","x":4800,"y":8900},{"s":"non-CG","x":6000,"y":8900},{"s":"non-CG","x":7000,"y":8700},{"s":"non-CG","x":8000,"y":9000},{"s":"non-CG","x":9200,"y":8700},{"s":"non-CG","x":2500,"y":8200},{"s":"non-CG","x":3300,"y":8000},{"s":"non-CG","x":4300,"y":8100},{"s":"non-CG","x":5100,"y":8200},{"s":"non-CG","x":8300,"y":8200},{"s":"non-CG","x":9400,"y":8000},{"s":"non-CG","x":2800,"y":7700},{"s":"non-CG","x":3600,"y":7300},{"s":"non-CG","x":4300,"y":7400},{"s":"non-CG","x":5400,"y":7600},{"s":"non-CG","x":7000,"y":7300},{"s":"non-CG","x":9000,"y":7600},{"s":"non-CG","x":11100,"y":7100},{"s":"non-CG","x":2000,"y":7000},{"s":"non-CG","x":2700,"y":6800},{"s":"non-CG","x":3300,"y":6500},{"s":"non-CG","x":4200,"y":6700},{"s":"non-CG","x":5700,"y":6900},{"s":"non-CG","x":7000,"y":6600},{"s":"non-CG","x":1200,"y":6400},{"s":"non-CG","x":8500,"y":6000},{"s":"non-CG","x":12600,"y":6000},{"s":"non-CG","x":9500,"y":5600},{"s":"non-CG","x":10500,"y":5000},{"s":"non-CG","x":10800,"y":4700},{"s":"non-CG","x":7500,"y":4800},{"s":"non-CG","x":7000,"y":5200},{"s":"non-CG","x":7800,"y":5500},{"s":"non-CG","x":6500,"y":5900},{"s":"non-CG","x":15900,"y":8700},{"s":"non-CG","x":12600,"y":8300},{"s":"non-CG","x":19800,"y":7000},{"s":"non-CG","x":21100,"y":3400},{"s":"non-CG","x":19600,"y":1400},{"s":"non-CG","x":16000,"y":1300},{"s":"non-CG","x":12300,"y":2300},{"s":"non-CG","x":11000,"y":900},{"s":"non-CG","x":9500,"y":500},{"s":"non-CG","x":10700,"y":700},{"s":"non-CG","x":8000,"y":500},{"s":"non-CG","x":9000,"y":3600},{"s":"non-CG","x":8600,"y":3300},{"s":"non-CG","x":6000,"y":2700},{"s":"non-CG","x":8700,"y":13800,"top":1},{"s":"CG","x":2400,"y":5000},{"s":"CG","x":3400,"y":5000},{"s":"CG","x":4300,"y":4700},{"s":"CG","x":5000,"y":4900},{"s":"CG","x":2400,"y":4300},{"s":"CG","x":3300,"y":4100},{"s":"CG","x":4300,"y":3900},{"s":"CG","x":5200,"y":3800},{"s":"CG","x":6000,"y":3700},{"s":"CG","x":2000,"y":3300},{"s":"CG","x":2700,"y":3000},{"s":"CG","x":3500,"y":2900},{"s":"CG","x":4400,"y":2800},{"s":"CG","x":5200,"y":2600},{"s":"CG","x":6000,"y":2500},{"s":"CG","x":7000,"y":2700},{"s":"CG","x":8000,"y":2600},{"s":"CG","x":1700,"y":2400},{"s":"CG","x":2500,"y":2100},{"s":"CG","x":3200,"y":2000},{"s":"CG","x":4000,"y":2000},{"s":"CG","x":4800,"y":2000},{"s":"CG","x":5800,"y":1700},{"s":"CG","x":6800,"y":1700},{"s":"CG","x":7700,"y":1600},{"s":"CG","x":1300,"y":1900},{"s":"CG","x":1800,"y":1700},{"s":"CG","x":3000,"y":1500},{"s":"CG","x":4000,"y":1300},{"s":"CG","x":5000,"y":1100},{"s":"CG","x":6500,"y":1000},{"s":"CG","x":7700,"y":800},{"s":"CG","x":9500,"y":1500},{"s":"CG","x":10500,"y":1500},{"s":"CG","x":11500,"y":1800},{"s":"CG","x":12500,"y":2000},{"s":"CG","x":13500,"y":2100},{"s":"CG","x":14500,"y":2400},{"s":"CG","x":9000,"y":2500},{"s":"CG","x":10000,"y":2700},{"s":"CG","x":11000,"y":3100},{"s":"CG","x":12000,"y":3100},{"s":"CG","x":13000,"y":2900},{"s":"CG","x":14000,"y":3300},{"s":"CG","x":15000,"y":3100},{"s":"CG","x":16500,"y":2800},{"s":"CG","x":2700,"y":5500},{"s":"CG","x":4000,"y":6300},{"s":"CG","x":5200,"y":6700},{"s":"CG","x":5900,"y":6300},{"s":"CG","x":5900,"y":4500},{"s":"CG","x":6500,"y":5200},{"s":"CG","x":6500,"y":4600},{"s":"CG","x":2200,"y":5400},{"s":"CG","x":3000,"y":5100},{"s":"CG","x":3800,"y":5000},{"s":"CG","x":4500,"y":4800},{"s":"CG","x":2100,"y":4600},{"s":"CG","x":3100,"y":4400},{"s":"CG","x":4100,"y":4200},{"s":"CG","x":4800,"y":4300},{"s":"CG","x":5500,"y":4200},{"s":"CG","x":1700,"y":3900},{"s":"CG","x":2200,"y":3600},{"s":"CG","x":3000,"y":3400},{"s":"CG","x":3800,"y":3200},{"s":"CG","x":4700,"y":3000},{"s":"CG","x":5500,"y":3000},{"s":"CG","x":6300,"y":2900},{"s":"CG","x":1400,"y":3000},{"s":"CG","x":1900,"y":2700},{"s":"CG","x":2600,"y":2500},{"s":"CG","x":3400,"y":2400},{"s":"CG","x":4400,"y":2200},{"s":"CG","x":5200,"y":1900},{"s":"CG","x":6200,"y":1900},{"s":"CG","x":7200,"y":1800},{"s":"CG","x":8800,"y":1500},{"s":"CG","x":9800,"y":1700},{"s":"CG","x":10800,"y":1800},{"s":"CG","x":6000,"y":1200},{"s":"CG","x":7000,"y":1300},{"s":"CG","x":4500,"y":1200},{"s":"CG","x":3500,"y":1400},{"s":"CG","x":2500,"y":1500},{"s":"CG","x":1500,"y":1100},{"s":"CG","x":900,"y":800},{"s":"CG","x":2500,"y":700},{"s":"CG","x":3500,"y":500},{"s":"CG","x":5500,"y":1000},{"s":"CG","x":8000,"y":1600},{"s":"CG","x":9500,"y":2400},{"s":"CG","x":11000,"y":2600},{"s":"CG","x":12500,"y":2900},{"s":"CG","x":14000,"y":2800},{"s":"CG","x":15500,"y":2400},{"s":"CG","x":12500,"y":3400},{"s":"CG","x":10000,"y":3500},{"s":"CG","x":3500,"y":5800},{"s":"CG","x":4200,"y":5700},{"s":"CG","x":5000,"y":5800},{"s":"CG","x":4400,"y":6400},{"s":"CG","x":5500,"y":7200},{"s":"CG","x":4800,"y":6700},{"s":"CG","x":5500,"y":6400},{"s":"CG","x":6500,"y":6100},{"s":"CG","x":7000,"y":8600},{"s":"CG","x":7600,"y":8000},{"s":"CG","x":6700,"y":7900},{"s":"CG","x":8400,"y":7800},{"s":"CG","x":3000,"y":6300},{"s":"CG","x":3800,"y":6000},{"s":"CG","x":4600,"y":6100},{"s":"CG","x":2500,"y":5700},{"s":"CG","x":3300,"y":5400},{"s":"CG","x":4100,"y":5300},{"s":"CG","x":5000,"y":5300},{"s":"CG","x":6000,"y":5500},{"s":"CG","x":2000,"y":5000},{"s":"CG","x":2800,"y":4800},{"s":"CG","x":3600,"y":4600},{"s":"CG","x":5500,"y":4800},{"s":"CG","x":1800,"y":4300},{"s":"CG","x":2600,"y":4000},{"s":"CG","x":3400,"y":3800},{"s":"CG","x":4300,"y":3500},{"s":"CG","x":5000,"y":3600},{"s":"CG","x":1500,"y":3400},{"s":"CG","x":2300,"y":3100},{"s":"CG","x":3200,"y":2900},{"s":"CG","x":4000,"y":2700},{"s":"CG","x":4800,"y":2500},{"s":"CG","x":5600,"y":2200},{"s":"CG","x":1200,"y":2500},{"s":"CG","x":2000,"y":2300},{"s":"CG","x":2800,"y":2000},{"s":"CG","x":3600,"y":1900},{"s":"CG","x":4500,"y":1700},{"s":"CG","x":5500,"y":1500},{"s":"CG","x":6500,"y":1400},{"s":"CG","x":7500,"y":1200},{"s":"CG","x":8500,"y":1100},{"s":"CG","x":1000,"y":1500},{"s":"CG","x":2000,"y":1200},{"s":"CG","x":3000,"y":1000},{"s":"CG","x":4000,"y":800},{"s":"CG","x":5000,"y":600},{"s":"CG","x":6000,"y":500},{"s":"CG","x":7000,"y":700},{"s":"CG","x":9000,"y":1100},{"s":"CG","x":10000,"y":1200},{"s":"CG","x":11000,"y":1500},{"s":"CG","x":12000,"y":1600},{"s":"CG","x":13000,"y":1800},{"s":"CG","x":14000,"y":2000},{"s":"CG","x":15500,"y":1800},{"s":"CG","x":16500,"y":2200},{"s":"CG","x":7000,"y":2200},{"s":"CG","x":8000,"y":2000},{"s":"CG","x":9000,"y":2000},{"s":"CG","x":10000,"y":2200},{"s":"CG","x":11000,"y":2100},{"s":"CG","x":12000,"y":2300},{"s":"CG","x":13500,"y":2500},{"s":"CG","x":15000,"y":2700},{"s":"CG","x":17000,"y":2700},{"s":"CG","x":9500,"y":2900},{"s":"CG","x":10500,"y":3000},{"s":"CG","x":11500,"y":3100},{"s":"CG","x":13500,"y":3200},{"s":"CG","x":14500,"y":3400},{"s":"CG","x":16000,"y":3500},{"s":"CG","x":12000,"y":3900},{"s":"CG","x":13000,"y":4000},{"s":"CG","x":14000,"y":3900},{"s":"CG","x":11500,"y":4500},{"s":"CG","x":17000,"y":4700},{"s":"CG","x":15000,"y":5500},{"s":"CG","x":15000,"y":4300},{"s":"CG","x":18000,"y":4700},{"s":"CG","x":21200,"y":4200},{"s":"CG","x":21000,"y":2700},{"s":"CG","x":24000,"y":2700},{"s":"CG","x":22000,"y":1900},{"s":"CG","x":18700,"y":1000},{"s":"CG","x":14800,"y":900},{"s":"CG","x":18000,"y":1400},{"s":"CG","x":25800,"y":6300},{"s":"CG","x":28200,"y":5900},{"s":"CG","x":23800,"y":5100},{"s":"CG","x":24000,"y":4600},{"s":"CG","x":25600,"y":4200},{"s":"CG","x":19300,"y":3100},{"s":"CG","x":13800,"y":7800},{"s":"CG","x":11300,"y":6700},{"s":"CG","x":9300,"y":5300},{"s":"CG","x":20000,"y":5800},{"s":"CG","x":23000,"y":5300},{"s":"CG","x":8900,"y":4700},{"s":"CEBP","x":22500,"y":7700},{"s":"CEBP","x":16000,"y":5800},{"s":"CEBP","x":16200,"y":4400},{"s":"CEBP","x":14500,"y":4200},{"s":"CEBP","x":16000,"y":3900},{"s":"CEBP","x":24000,"y":4000},{"s":"CEBP","x":27000,"y":4200},{"s":"CEBP","x":28700,"y":4200},{"s":"CEBP","x":30200,"y":4200},{"s":"CEBP","x":31800,"y":4100},{"s":"CEBP","x":25300,"y":3100},{"s":"CEBP","x":28200,"y":3100},{"s":"CEBP","x":26000,"y":2500},{"s":"CEBP","x":20300,"y":1200},{"s":"CEBP","x":20900,"y":1300},{"s":"CEBP","x":14000,"y":2100},{"s":"CEBP","x":8500,"y":2400},{"s":"CEBP","x":8300,"y":1800},{"s":"CEBP","x":11800,"y":1900},{"s":"CEBP","x":14400,"y":2000},{"s":"CEBP","x":6900,"y":1100},{"s":"CEBP","x":4400,"y":4300},{"s":"CEBP","x":3700,"y":3900},{"s":"CEBP","x":6300,"y":4100},{"s":"CEBP","x":4300,"y":3100},{"s":"CEBP","x":1600,"y":2000},{"s":"CEBP","x":1300,"y":2900},{"s":"CEBP","x":2800,"y":3200},{"s":"CEBP","x":3800,"y":700},{"s":"CEBP","x":2000,"y":1100},{"s":"CRE","x":22000,"y":9500,"top":1},{"s":"CRE","x":15900,"y":8300},{"s":"CRE","x":13100,"y":8200},{"s":"CRE","x":6300,"y":6300},{"s":"CRE","x":9500,"y":5900},{"s":"CRE","x":18100,"y":6200},{"s":"CRE","x":9500,"y":4600},{"s":"CRE","x":3700,"y":3200},{"s":"CRE","x":2900,"y":3000},{"s":"CRE","x":2400,"y":2600},{"s":"CRE","x":4200,"y":2700},{"s":"CRE","x":5800,"y":2800},{"s":"CRE","x":8700,"y":2900},{"s":"CRE","x":3200,"y":2400},{"s":"CRE","x":2500,"y":2000},{"s":"CRE","x":3500,"y":2000},{"s":"CRE","x":1500,"y":1500},{"s":"CRE","x":3100,"y":1300},{"s":"CRE","x":1000,"y":1000},{"s":"CRE","x":500,"y":800},{"s":"CRE","x":800,"y":500},{"s":"CRE","x":300,"y":400},{"s":"CRE","x":200,"y":200},{"s":"CRE","x":400,"y":600},{"s":"CRE","x":1000,"y":700},{"s":"CRE","x":2200,"y":2400},{"s":"CGAT","x":1300,"y":12100,"top":1},{"s":"CGAT","x":1800,"y":11400},{"s":"CGAT","x":1800,"y":10600},{"s":"CGAT","x":1700,"y":9200},{"s":"CGAT","x":900,"y":7700},{"s":"CGAT","x":1200,"y":7500},{"s":"CGAT","x":1300,"y":6000},{"s":"CGAT","x":900,"y":5600},{"s":"CGAT","x":500,"y":5500},{"s":"CGAT","x":800,"y":5200},{"s":"CGAT","x":400,"y":5000},{"s":"CGAT","x":600,"y":4600},{"s":"CGAT","x":800,"y":4300},{"s":"CGAT","x":400,"y":4000},{"s":"CGAT","x":600,"y":3600},{"s":"CGAT","x":800,"y":3200},{"s":"CGAT","x":400,"y":2900},{"s":"CGAT","x":500,"y":2400},{"s":"CGAT","x":300,"y":1900},{"s":"CGAT","x":200,"y":1200},{"s":"CGAT","x":200,"y":1700}],
"Dl":[{"s":"CGAT fit","x":0,"y":0},{"s":"CGAT fit","x":2540,"y":12610},{"s":"CRE fit","x":0,"y":0},{"s":"CRE fit","x":27000,"y":13120},{"s":"CEBP fit","x":0,"y":0},{"s":"CEBP fit","x":30500,"y":5450}],
"Dt":[{"s":"non-CG","t":"CTGAT|GCA","x":11020,"y":13800},{"s":"non-CG","t":"C","x":3180,"y":12170},{"s":"CGAT","t":"CGAT","x":5350,"y":12170},{"s":"non-CG","t":"|","x":13880,"y":12170},{"s":"CGAT","t":"G","x":14720,"y":12170},{"s":"non-CG","t":"CA","x":17060,"y":12170},{"s":"non-CG","t":"A","x":24080,"y":9440},{"s":"CRE","t":"TGA","x":26250,"y":9440},{"s":"mixed","t":"C","x":32600,"y":9440},{"s":"non-CG","t":"|","x":34770,"y":9440},{"s":"mixed","t":"G","x":35610,"y":9440},{"s":"CEBP","t":"CA","x":37950,"y":9440}],
"Ep":[{"s":"non-CG","x":7200,"y":9000},{"s":"non-CG","x":6000,"y":7600},{"s":"non-CG","x":5300,"y":7500},{"s":"non-CG","x":6500,"y":8400},{"s":"non-CG","x":8800,"y":9400},{"s":"non-CG","x":10000,"y":9300},{"s":"non-CG","x":11000,"y":9500},{"s":"non-CG","x":11500,"y":9100},{"s":"non-CG","x":10500,"y":7900},{"s":"non-CG","x":9700,"y":7400},{"s":"non-CG","x":9000,"y":7300},{"s":"non-CG","x":8200,"y":7700},{"s":"non-CG","x":7600,"y":7200},{"s":"non-CG","x":7500,"y":7800},{"s":"non-CG","x":6800,"y":7700},{"s":"non-CG","x":8300,"y":7200},{"s":"non-CG","x":9100,"y":7000},{"s":"non-CG","x":9900,"y":7000},{"s":"non-CG","x":9800,"y":8300},{"s":"non-CG","x":9000,"y":8700},{"s":"non-CG","x":8200,"y":8700},{"s":"non-CG","x":7500,"y":8600},{"s":"non-CG","x":10500,"y":8500},{"s":"non-CG","x":5400,"y":6800},{"s":"non-CG","x":6200,"y":7000},{"s":"non-CG","x":7000,"y":7000},{"s":"non-CG","x":6000,"y":6700},{"s":"non-CG","x":9300,"y":6500},{"s":"non-CG","x":9800,"y":6200},{"s":"non-CG","x":10000,"y":5500},{"s":"non-CG","x":4600,"y":6100},{"s":"non-CG","x":10800,"y":8000},{"s":"non-CG","x":11300,"y":7400},{"s":"non-CG","x":12900,"y":11560},{"s":"non-CG","x":12150,"y":11170},{"s":"non-CG","x":11700,"y":10700},{"s":"non-CG","x":12500,"y":10400},{"s":"non-CG","x":12900,"y":10200},{"s":"non-CG","x":10700,"y":10100},{"s":"non-CG","x":11000,"y":10100},{"s":"non-CG","x":7700,"y":10700},{"s":"non-CG","x":8900,"y":10800},{"s":"non-CG","x":9500,"y":10800},{"s":"non-CG","x":7700,"y":9900},{"s":"non-CG","x":8300,"y":9800},{"s":"non-CG","x":9100,"y":9700},{"s":"non-CG","x":9800,"y":9800},{"s":"non-CG","x":6500,"y":8900},{"s":"non-CG","x":6000,"y":8200},{"s":"non-CG","x":10200,"y":9200},{"s":"non-CG","x":10900,"y":8800},{"s":"non-CG","x":12200,"y":9130},{"s":"non-CG","x":7000,"y":8500},{"s":"non-CG","x":7900,"y":8900},{"s":"non-CG","x":8500,"y":9000},{"s":"non-CG","x":9300,"y":9000},{"s":"non-CG","x":10000,"y":8700},{"s":"non-CG","x":6500,"y":7900},{"s":"non-CG","x":7300,"y":8200},{"s":"non-CG","x":8000,"y":8300},{"s":"non-CG","x":8700,"y":8300},{"s":"non-CG","x":9400,"y":8300},{"s":"non-CG","x":10300,"y":8000},{"s":"non-CG","x":5000,"y":7100},{"s":"non-CG","x":5800,"y":7000},{"s":"non-CG","x":6500,"y":7100},{"s":"non-CG","x":7300,"y":7400},{"s":"non-CG","x":8000,"y":7600},{"s":"non-CG","x":8700,"y":7700},{"s":"non-CG","x":9500,"y":7600},{"s":"non-CG","x":10500,"y":7500},{"s":"non-CG","x":10900,"y":7200},{"s":"non-CG","x":4800,"y":6600},{"s":"non-CG","x":5500,"y":6400},{"s":"non-CG","x":6200,"y":6400},{"s":"non-CG","x":7000,"y":6600},{"s":"non-CG","x":7800,"y":6800},{"s":"non-CG","x":8500,"y":6900},{"s":"non-CG","x":4000,"y":6500},{"s":"non-CG","x":9000,"y":6200},{"s":"non-CG","x":10500,"y":6800},{"s":"non-CG","x":3700,"y":5600},{"s":"non-CG","x":4200,"y":5900},{"s":"non-CG","x":3000,"y":5000},{"s":"non-CG","x":3400,"y":5400},{"s":"non-CG","x":6800,"y":5900},{"s":"non-CG","x":7500,"y":6000},{"s":"non-CG","x":9000,"y":5600},{"s":"non-CG","x":9500,"y":5000},{"s":"non-CG","x":8000,"y":5000},{"s":"non-CG","x":7700,"y":4300},{"s":"non-CG","x":6400,"y":3500},{"s":"non-CG","x":5400,"y":2000},{"s":"non-CG","x":15700,"y":13800,"top":1},{"s":"CG","x":1000,"y":1400},{"s":"CG","x":1700,"y":1700},{"s":"CG","x":2300,"y":1800},{"s":"CG","x":2800,"y":2200},{"s":"CG","x":3300,"y":2500},{"s":"CG","x":3900,"y":2500},{"s":"CG","x":4600,"y":2400},{"s":"CG","x":5300,"y":2300},{"s":"CG","x":5800,"y":2600},{"s":"CG","x":1300,"y":2500},{"s":"CG","x":1900,"y":3200},{"s":"CG","x":2500,"y":3900},{"s":"CG","x":2900,"y":4300},{"s":"CG","x":3300,"y":4700},{"s":"CG","x":3700,"y":4100},{"s":"CG","x":4200,"y":3700},{"s":"CG","x":4600,"y":3300},{"s":"CG","x":5300,"y":3900},{"s":"CG","x":6100,"y":4000},{"s":"CG","x":7000,"y":3900},{"s":"CG","x":7500,"y":4100},{"s":"CG","x":8000,"y":4300},{"s":"CG","x":4600,"y":5500},{"s":"CG","x":5300,"y":5700},{"s":"CG","x":6000,"y":5300},{"s":"CG","x":6600,"y":5000},{"s":"CG","x":7300,"y":4600},{"s":"CG","x":8000,"y":5300},{"s":"CG","x":8500,"y":5000},{"s":"CG","x":7700,"y":5500},{"s":"CG","x":3000,"y":5400},{"s":"CG","x":3900,"y":5500},{"s":"CG","x":4200,"y":4800},{"s":"CG","x":4700,"y":5000},{"s":"CG","x":6800,"y":5500},{"s":"CG","x":8800,"y":5000},{"s":"CG","x":9500,"y":4500},{"s":"CG","x":1300,"y":2000},{"s":"CG","x":2000,"y":2500},{"s":"CG","x":2600,"y":2500},{"s":"CG","x":1700,"y":3600},{"s":"CG","x":2300,"y":3600},{"s":"CG","x":2800,"y":3200},{"s":"CG","x":2400,"y":4400},{"s":"CG","x":3400,"y":4000},{"s":"CG","x":3400,"y":3300},{"s":"CG","x":4000,"y":3800},{"s":"CG","x":4700,"y":3800},{"s":"CG","x":5400,"y":3600},{"s":"CG","x":6100,"y":3700},{"s":"CG","x":6700,"y":3700},{"s":"CG","x":7400,"y":3700},{"s":"CG","x":4500,"y":2900},{"s":"CG","x":5200,"y":2700},{"s":"CG","x":5800,"y":3100},{"s":"CG","x":6500,"y":3300},{"s":"CG","x":4800,"y":2300},{"s":"CG","x":4300,"y":2100},{"s":"CG","x":3700,"y":2200},{"s":"CG","x":3000,"y":1200},{"s":"CG","x":3600,"y":1600},{"s":"CG","x":4700,"y":4500},{"s":"CG","x":5400,"y":4400},{"s":"CG","x":6100,"y":4500},{"s":"CG","x":6800,"y":4700},{"s":"CG","x":7500,"y":4800},{"s":"CG","x":8300,"y":4200},{"s":"CG","x":5000,"y":5200},{"s":"CG","x":5700,"y":5300},{"s":"CG","x":6500,"y":5500},{"s":"CG","x":3500,"y":5500},{"s":"CG","x":4300,"y":5700},{"s":"CG","x":5200,"y":6000},{"s":"CG","x":6000,"y":5900},{"s":"CG","x":8200,"y":7000},{"s":"CG","x":9000,"y":7800},{"s":"CG","x":3300,"y":5900},{"s":"CG","x":3800,"y":5000},{"s":"CG","x":2700,"y":5400},{"s":"CG","x":3100,"y":4600},{"s":"CG","x":3900,"y":4400},{"s":"CG","x":4400,"y":5200},{"s":"CG","x":5000,"y":5600},{"s":"CG","x":5600,"y":5800},{"s":"CG","x":4800,"y":4900},{"s":"CG","x":5500,"y":4900},{"s":"CG","x":6200,"y":5000},{"s":"CG","x":7000,"y":5200},{"s":"CG","x":7400,"y":5400},{"s":"CG","x":4300,"y":4200},{"s":"CG","x":5000,"y":4100},{"s":"CG","x":5700,"y":4000},{"s":"CG","x":6400,"y":4200},{"s":"CG","x":7200,"y":4400},{"s":"CG","x":3000,"y":3800},{"s":"CG","x":3700,"y":3500},{"s":"CG","x":4500,"y":3400},{"s":"CG","x":5200,"y":3200},{"s":"CG","x":6000,"y":3300},{"s":"CG","x":7000,"y":3300},{"s":"CG","x":8000,"y":3700},{"s":"CG","x":9000,"y":4400},{"s":"CG","x":9800,"y":4400},{"s":"CG","x":1000,"y":4000},{"s":"CG","x":1300,"y":3500},{"s":"CG","x":900,"y":3200},{"s":"CG","x":1600,"y":3000},{"s":"CG","x":700,"y":2700},{"s":"CG","x":1200,"y":2800},{"s":"CG","x":2000,"y":2900},{"s":"CG","x":2600,"y":3000},{"s":"CG","x":3100,"y":3000},{"s":"CG","x":500,"y":2000},{"s":"CG","x":1000,"y":2100},{"s":"CG","x":1700,"y":2200},{"s":"CG","x":2400,"y":2300},{"s":"CG","x":3000,"y":2200},{"s":"CG","x":3600,"y":2700},{"s":"CG","x":4300,"y":2600},{"s":"CG","x":5000,"y":2500},{"s":"CG","x":5600,"y":2700},{"s":"CG","x":6300,"y":2900},{"s":"CG","x":6900,"y":3200},{"s":"CG","x":3500,"y":1900},{"s":"CG","x":4200,"y":1800},{"s":"CG","x":4900,"y":1900},{"s":"CG","x":5500,"y":2000},{"s":"CG","x":6000,"y":2300},{"s":"CG","x":2800,"y":1500},{"s":"CG","x":3300,"y":1100},{"s":"CG","x":3900,"y":1300},{"s":"CG","x":4400,"y":1500},{"s":"CG","x":500,"y":1000},{"s":"CG","x":900,"y":1400},{"s":"CG","x":1500,"y":1500},{"s":"CG","x":2100,"y":1300},{"s":"CG","x":300,"y":500},{"s":"CG","x":800,"y":600},{"s":"CG","x":1300,"y":800},{"s":"CG","x":3300,"y":8400},{"s":"CG","x":2200,"y":6900},{"s":"CG","x":2600,"y":6100},{"s":"CG","x":2000,"y":5100},{"s":"CG","x":1700,"y":4400},{"s":"CG","x":6600,"y":7000},{"s":"CG","x":8400,"y":8700},{"s":"CEBP","x":10000,"y":7800},{"s":"CEBP","x":10400,"y":5900},{"s":"CEBP","x":9200,"y":4300},{"s":"CEBP","x":6900,"y":3900},{"s":"CEBP","x":5800,"y":4500},{"s":"CEBP","x":4200,"y":4300},{"s":"CEBP","x":3300,"y":4300},{"s":"CEBP","x":4600,"y":4300},{"s":"CEBP","x":3200,"y":3500},{"s":"CEBP","x":2300,"y":3000},{"s":"CEBP","x":1900,"y":2700},{"s":"CEBP","x":2500,"y":2500},{"s":"CEBP","x":3000,"y":2800},{"s":"CEBP","x":4900,"y":2800},{"s":"CEBP","x":2400,"y":3300},{"s":"CEBP","x":4000,"y":3000},{"s":"CEBP","x":4000,"y":1900},{"s":"CEBP","x":500,"y":300},{"s":"CEBP","x":200,"y":200},{"s":"CRE","x":12600,"y":8300,"top":1},{"s":"CRE","x":11100,"y":8400},{"s":"CRE","x":9900,"y":9600},{"s":"CRE","x":11400,"y":6400},{"s":"CRE","x":11700,"y":6300},{"s":"CRE","x":10950,"y":5880},{"s":"CRE","x":8800,"y":4400},{"s":"CRE","x":6500,"y":3100},{"s":"CRE","x":4300,"y":2800},{"s":"CRE","x":4600,"y":2700},{"s":"CRE","x":5200,"y":2800},{"s":"CRE","x":3000,"y":1700},{"s":"CRE","x":3100,"y":2000},{"s":"CRE","x":3100,"y":1500},{"s":"CRE","x":7500,"y":2000},{"s":"CRE","x":4500,"y":1000},{"s":"CRE","x":1800,"y":800},{"s":"CRE","x":2000,"y":600},{"s":"CRE","x":1400,"y":500},{"s":"CRE","x":1700,"y":400},{"s":"CRE","x":2200,"y":700},{"s":"CRE","x":1100,"y":400},{"s":"CGAT","x":3800,"y":12000,"top":1},{"s":"CGAT","x":3000,"y":11500},{"s":"CGAT","x":3300,"y":10500},{"s":"CGAT","x":1800,"y":7800},{"s":"CGAT","x":1700,"y":5700},{"s":"CGAT","x":2200,"y":5800},{"s":"CGAT","x":1400,"y":5200},{"s":"CGAT","x":800,"y":4200},{"s":"CGAT","x":1600,"y":3400},{"s":"CGAT","x":1700,"y":3600},{"s":"CGAT","x":1300,"y":2400},{"s":"CGAT","x":1000,"y":2000},{"s":"CGAT","x":300,"y":1300},{"s":"CGAT","x":200,"y":700},{"s":"CGAT","x":400,"y":1500},{"s":"CGAT","x":200,"y":300},{"s":"CGAT","x":900,"y":300}],
"El":[{"s":"CGAT fit","x":0,"y":0},{"s":"CGAT fit","x":4860,"y":13660},{"s":"non-CG","x":0,"y":0},{"s":"non-CG","x":15800,"y":14670},{"s":"CEBP fit","x":0,"y":0},{"s":"CEBP fit","x":14340,"y":11080},{"s":"CRE fit","x":0,"y":0},{"s":"CRE fit","x":15530,"y":9360}],
"Et":[{"s":"non-CG","t":"CTGAT|GCA","x":11990,"y":15740},{"s":"non-CG","t":"C","x":530,"y":14310},{"s":"CGAT","t":"CGAT","x":1620,"y":14310},{"s":"non-CG","t":"|","x":5900,"y":14310},{"s":"CGAT","t":"G","x":6330,"y":14310},{"s":"non-CG","t":"CA","x":7500,"y":14310},{"s":"non-CG","t":"C","x":12470,"y":6860},{"s":"CRE","t":"TGA","x":13560,"y":6860},{"s":"mixed","t":"C","x":16750,"y":6860},{"s":"non-CG","t":"|","x":17840,"y":6860},{"s":"mixed","t":"G","x":18260,"y":6860},{"s":"CEBP","t":"CA","x":19440,"y":6860}]
},
"spacing":33,
"vconcat":[
{"bounds":"flush","columns":2,"spacing":{"row":100,"column":188.5},
"concat":[
{"width":318,"height":313,
"layer":[
{"data":{"name":"Ap"},"mark":"circle","encoding":{"x":{"field":"x","type":"quantitative","scale":{"domain":[0,36000],"nice":false},"axis":{"values":[0,12000,24000,36000],"labelOffset":-4,"labelPadding":11,"title":"CEBPB-GST (UM)","titleX":173,"titleY":47}},"y":{"field":"y","type":"quantitative","scale":{"domain":[0,36000],"nice":false},"axis":{"values":[12000,24000,36000],"labelOffset":3,"labelPadding":19,"title":"CEBPB-GST (M)","titleX":-104,"titleY":146}},"color":{"field":"s","type":"nominal","legend":null,"scale":{"domain":["non-CG","CG","CEBP","CRE","CGAT","mixed","CEBP fit","CRE fit","CGAT fit"],"range":["#141414","#959595","#3f8a3c","#d5101f","#4453a8","#8a4b1e","#2f6e22","#b11e2b","#33359a"]}},"size":{"condition":{"test":"datum.top","value":190},"value":95}}},
{"data":{"name":"Al"},"mark":"line","encoding":{"x":{"field":"x","type":"quantitative"},"y":{"field":"y","type":"quantitative"},"color":{"field":"s","type":"nominal"}}},
{"data":{"name":"At"},"mark":"text","encoding":{"x":{"field":"x","type":"quantitative"},"y":{"field":"y","type":"quantitative"},"text":{"field":"t"},"color":{"field":"s","type":"nominal"}}},
{"data":{"values":[{"t":"A","x":1020,"y":34600}]},"mark":{"type":"text","fontSize":35,"fontWeight":"normal","baseline":"alphabetic","color":"#000000"},"encoding":{"x":{"field":"x","type":"quantitative"},"y":{"field":"y","type":"quantitative"},"text":{"field":"t"}}}]},
{"width":318,"height":316,
"layer":[
{"data":{"name":"Bp"},"mark":"circle","encoding":{"x":{"field":"x","type":"quantitative","scale":{"domain":[0,15000],"nice":false},"axis":{"values":[0,5000,10000,15000],"labelOffset":-6,"labelPadding":15,"title":"ATF4-GST (UM)","titleX":178,"titleY":50}},"y":{"field":"y","type":"quantitative","scale":{"domain":[0,15000],"nice":false},"axis":{"values":[5000,10000,15000],"labelOffset":2,"labelPadding":19,"title":"ATF4-GST (M)","titleX":-97,"titleY":141}},"color":{"field":"s","type":"nominal","legend":null,"scale":{"domain":["non-CG","CG","CEBP","CRE","CGAT","mixed","CEBP fit","CRE fit","CGAT fit"],"range":["#141414","#959595","#3f8a3c","#d5101f","#4453a8","#8a4b1e","#2f6e22","#b11e2b","#33359a"]}},"size":{"condition":{"test":"datum.top","value":190},"value":95}}},
{"data":{"name":"Bl"},"mark":"line","encoding":{"x":{"field":"x","type":"quantitative"},"y":{"field":"y","type":"quantitative"},"color":{"field":"s","type":"nominal"}}},
{"data":{"name":"Bt"},"mark":"text","encoding":{"x":{"field":"x","type":"quantitative"},"y":{"field":"y","type":"quantitative"},"text":{"field":"t"},"color":{"field":"s","type":"nominal"}}},
{"data":{"values":[{"t":"B","x":430,"y":14650}]},"mark":{"type":"text","fontSize":31,"fontWeight":"normal","baseline":"alphabetic","color":"#000000"},"encoding":{"x":{"field":"x","type":"quantitative"},"y":{"field":"y","type":"quantitative"},"text":{"field":"t"}}}]},
{"width":328,"height":315,
"layer":[
{"data":{"name":"Cp"},"mark":"circle","encoding":{"x":{"field":"x","type":"quantitative","scale":{"domain":[0,30000],"nice":false},"axis":{"values":[0,10000,20000,30000],"labelOffset":-4,"labelPadding":9,"title":"CEBPB-GST (UM)","titleX":158,"titleY":44}},"y":{"field":"y","type":"quantitative","scale":{"domain":[0,18000],"nice":false},"axis":{"values":[6000,12000,18000],"labelOffset":-2,"labelPadding":19,"title":"CEBPB-GST|ATF4 (UM)","titleX":-103,"titleY":148}},"color":{"field":"s","type":"nominal","legend":null,"scale":{"domain":["non-CG","CG","CEBP","CRE","CGAT","mixed","CEBP fit","CRE fit","CGAT fit"],"range":["#141414","#959595","#3f8a3c","#d5101f","#4453a8","#8a4b1e","#2f6e22","#b11e2b","#33359a"]}},"size":{"condition":{"test":"datum.top","value":190},"value":95}}},
{"data":{"name":"Cl"},"mark":"line","encoding":{"x":{"field":"x","type":"quantitative"},"y":{"field":"y","type":"quantitative"},"color":{"field":"s","type":"nominal"}}},
{"data":{"name":"Ct"},"mark":"text","encoding":{"x":{"field":"x","type":"quantitative"},"y":{"field":"y","type":"quantitative"},"text":{"field":"t"},"color":{"field":"s","type":"nominal"}}},
{"data":{"values":[{"t":"C","x":1100,"y":17530}]},"mark":{"type":"text","fontSize":32,"fontWeight":"normal","baseline":"alphabetic","color":"#000000"},"encoding":{"x":{"field":"x","type":"quantitative"},"y":{"field":"y","type":"quantitative"},"text":{"field":"t"}}}]},
{"width":318,"height":315,
"layer":[
{"data":{"name":"Dp"},"mark":"circle","encoding":{"x":{"field":"x","type":"quantitative","scale":{"domain":[0,36000],"nice":false},"axis":{"values":[0,12000,24000,36000],"labelOffset":-5,"labelPadding":10,"title":"CEBPB-GST (M)","titleX":152,"titleY":48}},"y":{"field":"y","type":"quantitative","scale":{"domain":[0,15000],"nice":false},"axis":{"values":[5000,10000,15000],"labelOffset":0,"labelPadding":19,"title":"CEBPB-GST|ATF4 (M)","titleX":-107,"titleY":155}},"color":{"field":"s","type":"nominal","legend":null,"scale":{"domain":["non-CG","CG","CEBP","CRE","CGAT","mixed","CEBP fit","CRE fit","CGAT fit"],"range":["#141414","#959595","#3f8a3c","#d5101f","#4453a8","#8a4b1e","#2f6e22","#b11e2b","#33359a"]}},"size":{"condition":{"test":"datum.top","value":190},"value":95}}},
{"data":{"name":"Dl"},"mark":"line","encoding":{"x":{"field":"x","type":"quantitative"},"y":{"field":"y","type":"quantitative"},"color":{"field":"s","type":"nominal"}}},
{"data":{"name":"Dt"},"mark":"text","encoding":{"x":{"field":"x","type":"quantitative"},"y":{"field":"y","type":"quantitative"},"text":{"field":"t"},"color":{"field":"s","type":"nominal"}}},
{"data":{"values":[{"t":"D","x":1060,"y":14740}]},"mark":{"type":"text","fontSize":33,"fontWeight":"normal","baseline":"alphabetic","color":"#000000"},"encoding":{"x":{"field":"x","type":"quantitative"},"y":{"field":"y","type":"quantitative"},"text":{"field":"t"}}}]}
]},
{"bounds":"flush","spacing":0,"hconcat":[
{"width":245.7,"height":10,"data":{"values":[]},"mark":"point"},
{"width":315,"height":314,
"layer":[
{"data":{"name":"Ep"},"mark":"circle","encoding":{"x":{"field":"x","type":"quantitative","scale":{"domain":[0,18000],"nice":false},"axis":{"values":[0,6000,12000,18000],"labelOffset":-4,"labelPadding":12,"title":"CEBPB-GST|ATF4 (UM)","titleX":171,"titleY":57}},"y":{"field":"y","type":"quantitative","scale":{"domain":[0,18000],"nice":false},"axis":{"values":[6000,12000,18000],"labelOffset":3,"labelPadding":19,"title":"CEBPB-GST|ATF4 (M)","titleX":-112,"titleY":159}},"color":{"field":"s","type":"nominal","legend":null,"scale":{"domain":["non-CG","CG","CEBP","CRE","CGAT","mixed","CEBP fit","CRE fit","CGAT fit"],"range":["#141414","#959595","#3f8a3c","#d5101f","#4453a8","#8a4b1e","#2f6e22","#b11e2b","#33359a"]}},"size":{"condition":{"test":"datum.top","value":190},"value":95}}},
{"data":{"name":"El"},"mark":"line","encoding":{"x":{"field":"x","type":"quantitative"},"y":{"field":"y","type":"quantitative"},"color":{"field":"s","type":"nominal"}}},
{"data":{"name":"Et"},"mark":"text","encoding":{"x":{"field":"x","type":"quantitative"},"y":{"field":"y","type":"quantitative"},"text":{"field":"t"},"color":{"field":"s","type":"nominal"}}},
{"data":{"values":[{"t":"E","x":514,"y":17550}]},"mark":{"type":"text","fontSize":29,"fontWeight":"normal","baseline":"alphabetic","color":"#000000"},"encoding":{"x":{"field":"x","type":"quantitative"},"y":{"field":"y","type":"quantitative"},"text":{"field":"t"}}}]}
]}
]}
